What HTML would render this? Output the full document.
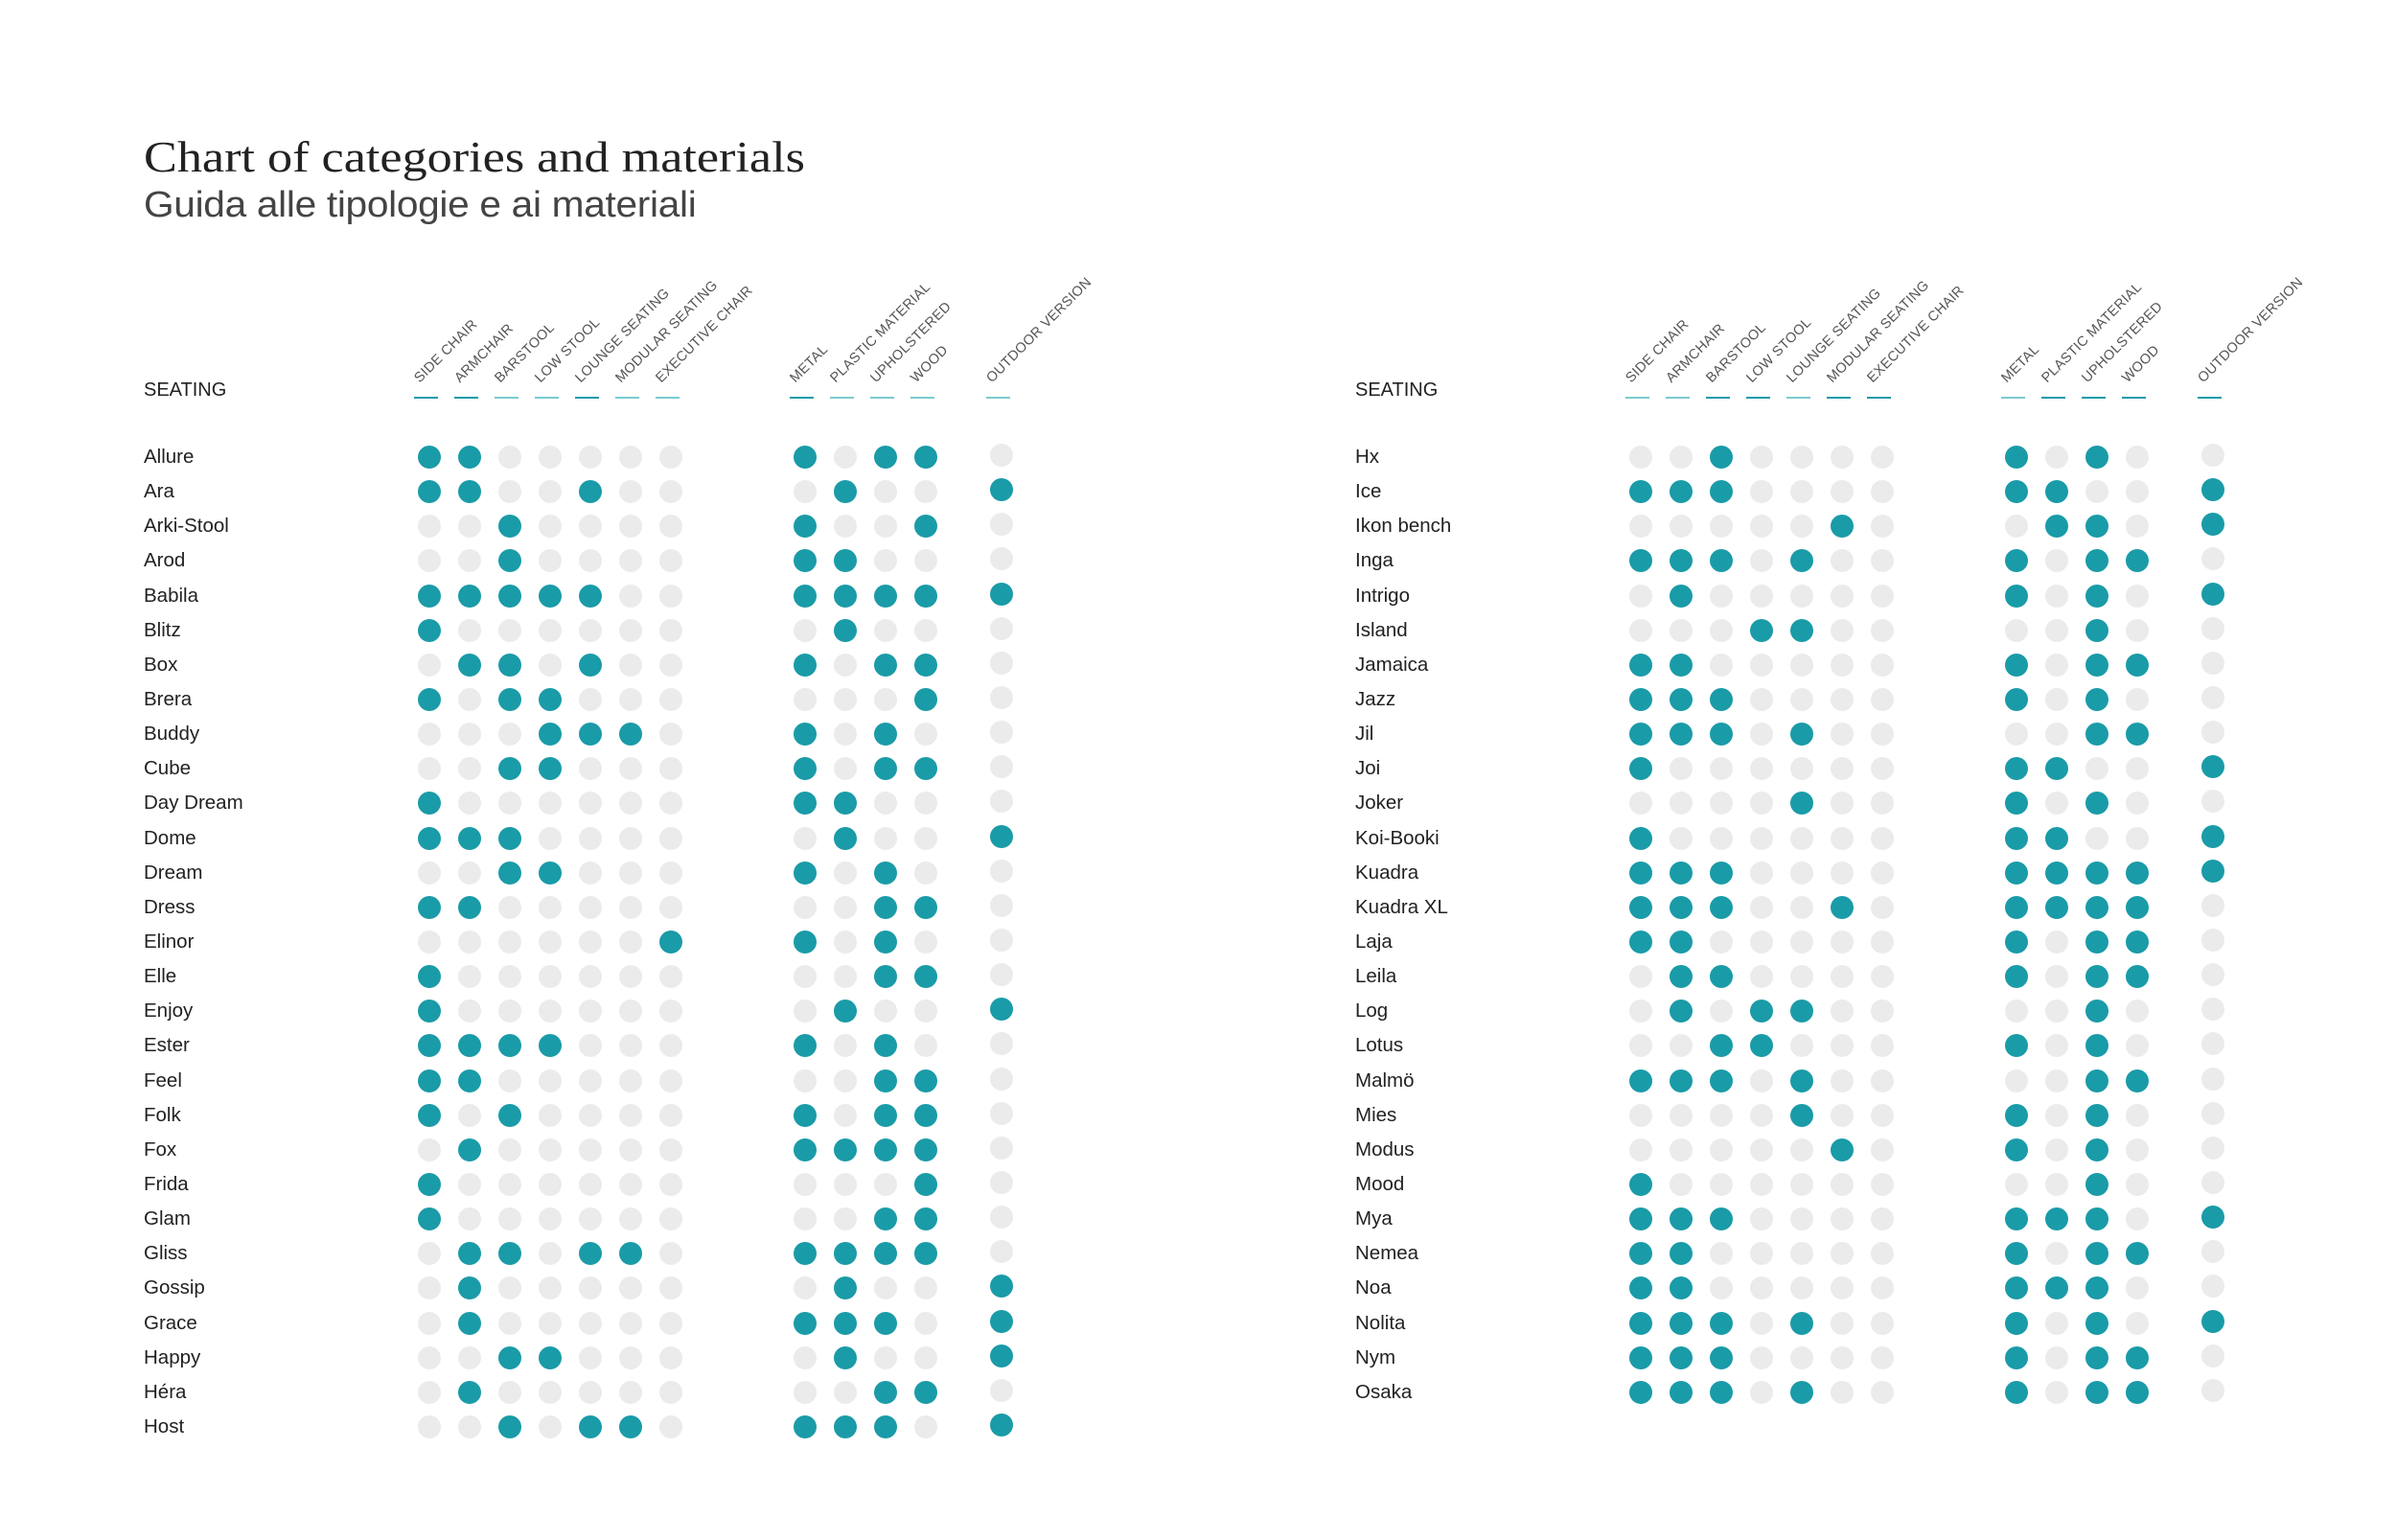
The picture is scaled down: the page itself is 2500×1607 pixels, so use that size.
<!DOCTYPE html>
<html><head><meta charset="utf-8">
<style>
body{margin:0;background:#fff;}
#c{position:relative;width:2500px;height:1607px;overflow:hidden;background:#fff;font-family:"Liberation Sans",sans-serif;color:#222;}
.t{position:absolute;left:150px;top:138px;font-family:"Liberation Serif",serif;font-size:45px;color:#222;white-space:nowrap;transform-origin:0 0;transform:scaleX(1.16);}
.s{position:absolute;left:150px;top:193px;font-size:38px;color:#444;white-space:nowrap;letter-spacing:-0.3px;transform-origin:0 0;transform:scaleX(1.07);}
.sec{position:absolute;font-size:20px;top:396px;color:#222;}
.h{position:absolute;top:388px;font-size:14.5px;color:#555;white-space:nowrap;transform-origin:0 100%;transform:rotate(-45deg);letter-spacing:0.3px;line-height:14px;}
.u{position:absolute;top:414px;width:25px;height:2px;background:#1a9ba8;}
.u.l{background:#7ccad1;}
.r{position:absolute;height:24px;width:1100px;}
.r b{position:absolute;left:0;top:-1px;font-weight:normal;font-size:20.5px;line-height:26px;color:#222;white-space:nowrap;}
.r i{position:absolute;top:0;width:24px;height:24px;border-radius:50%;background:#ebebeb;}
.r i.y{background:#1a9ba8;}
.r i:nth-of-type(1){left:286px}.r i:nth-of-type(2){left:328px}.r i:nth-of-type(3){left:370px}.r i:nth-of-type(4){left:412px}.r i:nth-of-type(5){left:454px}.r i:nth-of-type(6){left:496px}.r i:nth-of-type(7){left:538px}
.r i:nth-of-type(8){left:678px}.r i:nth-of-type(9){left:720px}.r i:nth-of-type(10){left:762px}.r i:nth-of-type(11){left:804px}
.r i:nth-of-type(12){left:883px;top:-2px}
</style></head><body><div id="c">
<div class="t">Chart of categories and materials</div>
<div class="s">Guida alle tipologie e ai materiali</div>

<div class="sec" style="left:150px">SEATING</div>
<div class="sec" style="left:1414px">SEATING</div>

<div class="h" style="left:440px">SIDE CHAIR</div>
<div class="h" style="left:482px">ARMCHAIR</div>
<div class="h" style="left:524px">BARSTOOL</div>
<div class="h" style="left:566px">LOW STOOL</div>
<div class="h" style="left:608px">LOUNGE SEATING</div>
<div class="h" style="left:650px">MODULAR SEATING</div>
<div class="h" style="left:692px">EXECUTIVE CHAIR</div>
<div class="h" style="left:832px">METAL</div>
<div class="h" style="left:874px">PLASTIC MATERIAL</div>
<div class="h" style="left:916px">UPHOLSTERED</div>
<div class="h" style="left:958px">WOOD</div>
<div class="h" style="left:1037px">OUTDOOR VERSION</div>
<div class="u" style="left:432px"></div><div class="u" style="left:474px"></div><div class="u l" style="left:516px"></div><div class="u l" style="left:558px"></div><div class="u" style="left:600px"></div><div class="u l" style="left:642px"></div><div class="u l" style="left:684px"></div>
<div class="u" style="left:824px"></div><div class="u l" style="left:866px"></div><div class="u l" style="left:908px"></div><div class="u l" style="left:950px"></div><div class="u l" style="left:1029px"></div>

<div class="h" style="left:1704px">SIDE CHAIR</div>
<div class="h" style="left:1746px">ARMCHAIR</div>
<div class="h" style="left:1788px">BARSTOOL</div>
<div class="h" style="left:1830px">LOW STOOL</div>
<div class="h" style="left:1872px">LOUNGE SEATING</div>
<div class="h" style="left:1914px">MODULAR SEATING</div>
<div class="h" style="left:1956px">EXECUTIVE CHAIR</div>
<div class="h" style="left:2096px">METAL</div>
<div class="h" style="left:2138px">PLASTIC MATERIAL</div>
<div class="h" style="left:2180px">UPHOLSTERED</div>
<div class="h" style="left:2222px">WOOD</div>
<div class="h" style="left:2301px">OUTDOOR VERSION</div>
<div class="u l" style="left:1696px"></div><div class="u l" style="left:1738px"></div><div class="u" style="left:1780px"></div><div class="u" style="left:1822px"></div><div class="u l" style="left:1864px"></div><div class="u" style="left:1906px"></div><div class="u" style="left:1948px"></div>
<div class="u l" style="left:2088px"></div><div class="u" style="left:2130px"></div><div class="u" style="left:2172px"></div><div class="u" style="left:2214px"></div><div class="u" style="left:2293px"></div>

<div class="r" style="left:150px;top:465px"><b>Allure</b><i class="y"></i><i class="y"></i><i></i><i></i><i></i><i></i><i></i><i class="y"></i><i></i><i class="y"></i><i class="y"></i><i></i></div>
<div class="r" style="left:150px;top:501px"><b>Ara</b><i class="y"></i><i class="y"></i><i></i><i></i><i class="y"></i><i></i><i></i><i></i><i class="y"></i><i></i><i></i><i class="y"></i></div>
<div class="r" style="left:150px;top:537px"><b>Arki-Stool</b><i></i><i></i><i class="y"></i><i></i><i></i><i></i><i></i><i class="y"></i><i></i><i></i><i class="y"></i><i></i></div>
<div class="r" style="left:150px;top:573px"><b>Arod</b><i></i><i></i><i class="y"></i><i></i><i></i><i></i><i></i><i class="y"></i><i class="y"></i><i></i><i></i><i></i></div>
<div class="r" style="left:150px;top:610px"><b>Babila</b><i class="y"></i><i class="y"></i><i class="y"></i><i class="y"></i><i class="y"></i><i></i><i></i><i class="y"></i><i class="y"></i><i class="y"></i><i class="y"></i><i class="y"></i></div>
<div class="r" style="left:150px;top:646px"><b>Blitz</b><i class="y"></i><i></i><i></i><i></i><i></i><i></i><i></i><i></i><i class="y"></i><i></i><i></i><i></i></div>
<div class="r" style="left:150px;top:682px"><b>Box</b><i></i><i class="y"></i><i class="y"></i><i></i><i class="y"></i><i></i><i></i><i class="y"></i><i></i><i class="y"></i><i class="y"></i><i></i></div>
<div class="r" style="left:150px;top:718px"><b>Brera</b><i class="y"></i><i></i><i class="y"></i><i class="y"></i><i></i><i></i><i></i><i></i><i></i><i></i><i class="y"></i><i></i></div>
<div class="r" style="left:150px;top:754px"><b>Buddy</b><i></i><i></i><i></i><i class="y"></i><i class="y"></i><i class="y"></i><i></i><i class="y"></i><i></i><i class="y"></i><i></i><i></i></div>
<div class="r" style="left:150px;top:790px"><b>Cube</b><i></i><i></i><i class="y"></i><i class="y"></i><i></i><i></i><i></i><i class="y"></i><i></i><i class="y"></i><i class="y"></i><i></i></div>
<div class="r" style="left:150px;top:826px"><b>Day Dream</b><i class="y"></i><i></i><i></i><i></i><i></i><i></i><i></i><i class="y"></i><i class="y"></i><i></i><i></i><i></i></div>
<div class="r" style="left:150px;top:863px"><b>Dome</b><i class="y"></i><i class="y"></i><i class="y"></i><i></i><i></i><i></i><i></i><i></i><i class="y"></i><i></i><i></i><i class="y"></i></div>
<div class="r" style="left:150px;top:899px"><b>Dream</b><i></i><i></i><i class="y"></i><i class="y"></i><i></i><i></i><i></i><i class="y"></i><i></i><i class="y"></i><i></i><i></i></div>
<div class="r" style="left:150px;top:935px"><b>Dress</b><i class="y"></i><i class="y"></i><i></i><i></i><i></i><i></i><i></i><i></i><i></i><i class="y"></i><i class="y"></i><i></i></div>
<div class="r" style="left:150px;top:971px"><b>Elinor</b><i></i><i></i><i></i><i></i><i></i><i></i><i class="y"></i><i class="y"></i><i></i><i class="y"></i><i></i><i></i></div>
<div class="r" style="left:150px;top:1007px"><b>Elle</b><i class="y"></i><i></i><i></i><i></i><i></i><i></i><i></i><i></i><i></i><i class="y"></i><i class="y"></i><i></i></div>
<div class="r" style="left:150px;top:1043px"><b>Enjoy</b><i class="y"></i><i></i><i></i><i></i><i></i><i></i><i></i><i></i><i class="y"></i><i></i><i></i><i class="y"></i></div>
<div class="r" style="left:150px;top:1079px"><b>Ester</b><i class="y"></i><i class="y"></i><i class="y"></i><i class="y"></i><i></i><i></i><i></i><i class="y"></i><i></i><i class="y"></i><i></i><i></i></div>
<div class="r" style="left:150px;top:1116px"><b>Feel</b><i class="y"></i><i class="y"></i><i></i><i></i><i></i><i></i><i></i><i></i><i></i><i class="y"></i><i class="y"></i><i></i></div>
<div class="r" style="left:150px;top:1152px"><b>Folk</b><i class="y"></i><i></i><i class="y"></i><i></i><i></i><i></i><i></i><i class="y"></i><i></i><i class="y"></i><i class="y"></i><i></i></div>
<div class="r" style="left:150px;top:1188px"><b>Fox</b><i></i><i class="y"></i><i></i><i></i><i></i><i></i><i></i><i class="y"></i><i class="y"></i><i class="y"></i><i class="y"></i><i></i></div>
<div class="r" style="left:150px;top:1224px"><b>Frida</b><i class="y"></i><i></i><i></i><i></i><i></i><i></i><i></i><i></i><i></i><i></i><i class="y"></i><i></i></div>
<div class="r" style="left:150px;top:1260px"><b>Glam</b><i class="y"></i><i></i><i></i><i></i><i></i><i></i><i></i><i></i><i></i><i class="y"></i><i class="y"></i><i></i></div>
<div class="r" style="left:150px;top:1296px"><b>Gliss</b><i></i><i class="y"></i><i class="y"></i><i></i><i class="y"></i><i class="y"></i><i></i><i class="y"></i><i class="y"></i><i class="y"></i><i class="y"></i><i></i></div>
<div class="r" style="left:150px;top:1332px"><b>Gossip</b><i></i><i class="y"></i><i></i><i></i><i></i><i></i><i></i><i></i><i class="y"></i><i></i><i></i><i class="y"></i></div>
<div class="r" style="left:150px;top:1369px"><b>Grace</b><i></i><i class="y"></i><i></i><i></i><i></i><i></i><i></i><i class="y"></i><i class="y"></i><i class="y"></i><i></i><i class="y"></i></div>
<div class="r" style="left:150px;top:1405px"><b>Happy</b><i></i><i></i><i class="y"></i><i class="y"></i><i></i><i></i><i></i><i></i><i class="y"></i><i></i><i></i><i class="y"></i></div>
<div class="r" style="left:150px;top:1441px"><b>Héra</b><i></i><i class="y"></i><i></i><i></i><i></i><i></i><i></i><i></i><i></i><i class="y"></i><i class="y"></i><i></i></div>
<div class="r" style="left:150px;top:1477px"><b>Host</b><i></i><i></i><i class="y"></i><i></i><i class="y"></i><i class="y"></i><i></i><i class="y"></i><i class="y"></i><i class="y"></i><i></i><i class="y"></i></div>

<div class="r" style="left:1414px;top:465px"><b>Hx</b><i></i><i></i><i class="y"></i><i></i><i></i><i></i><i></i><i class="y"></i><i></i><i class="y"></i><i></i><i></i></div>
<div class="r" style="left:1414px;top:501px"><b>Ice</b><i class="y"></i><i class="y"></i><i class="y"></i><i></i><i></i><i></i><i></i><i class="y"></i><i class="y"></i><i></i><i></i><i class="y"></i></div>
<div class="r" style="left:1414px;top:537px"><b>Ikon bench</b><i></i><i></i><i></i><i></i><i></i><i class="y"></i><i></i><i></i><i class="y"></i><i class="y"></i><i></i><i class="y"></i></div>
<div class="r" style="left:1414px;top:573px"><b>Inga</b><i class="y"></i><i class="y"></i><i class="y"></i><i></i><i class="y"></i><i></i><i></i><i class="y"></i><i></i><i class="y"></i><i class="y"></i><i></i></div>
<div class="r" style="left:1414px;top:610px"><b>Intrigo</b><i></i><i class="y"></i><i></i><i></i><i></i><i></i><i></i><i class="y"></i><i></i><i class="y"></i><i></i><i class="y"></i></div>
<div class="r" style="left:1414px;top:646px"><b>Island</b><i></i><i></i><i></i><i class="y"></i><i class="y"></i><i></i><i></i><i></i><i></i><i class="y"></i><i></i><i></i></div>
<div class="r" style="left:1414px;top:682px"><b>Jamaica</b><i class="y"></i><i class="y"></i><i></i><i></i><i></i><i></i><i></i><i class="y"></i><i></i><i class="y"></i><i class="y"></i><i></i></div>
<div class="r" style="left:1414px;top:718px"><b>Jazz</b><i class="y"></i><i class="y"></i><i class="y"></i><i></i><i></i><i></i><i></i><i class="y"></i><i></i><i class="y"></i><i></i><i></i></div>
<div class="r" style="left:1414px;top:754px"><b>Jil</b><i class="y"></i><i class="y"></i><i class="y"></i><i></i><i class="y"></i><i></i><i></i><i></i><i></i><i class="y"></i><i class="y"></i><i></i></div>
<div class="r" style="left:1414px;top:790px"><b>Joi</b><i class="y"></i><i></i><i></i><i></i><i></i><i></i><i></i><i class="y"></i><i class="y"></i><i></i><i></i><i class="y"></i></div>
<div class="r" style="left:1414px;top:826px"><b>Joker</b><i></i><i></i><i></i><i></i><i class="y"></i><i></i><i></i><i class="y"></i><i></i><i class="y"></i><i></i><i></i></div>
<div class="r" style="left:1414px;top:863px"><b>Koi-Booki</b><i class="y"></i><i></i><i></i><i></i><i></i><i></i><i></i><i class="y"></i><i class="y"></i><i></i><i></i><i class="y"></i></div>
<div class="r" style="left:1414px;top:899px"><b>Kuadra</b><i class="y"></i><i class="y"></i><i class="y"></i><i></i><i></i><i></i><i></i><i class="y"></i><i class="y"></i><i class="y"></i><i class="y"></i><i class="y"></i></div>
<div class="r" style="left:1414px;top:935px"><b>Kuadra XL</b><i class="y"></i><i class="y"></i><i class="y"></i><i></i><i></i><i class="y"></i><i></i><i class="y"></i><i class="y"></i><i class="y"></i><i class="y"></i><i></i></div>
<div class="r" style="left:1414px;top:971px"><b>Laja</b><i class="y"></i><i class="y"></i><i></i><i></i><i></i><i></i><i></i><i class="y"></i><i></i><i class="y"></i><i class="y"></i><i></i></div>
<div class="r" style="left:1414px;top:1007px"><b>Leila</b><i></i><i class="y"></i><i class="y"></i><i></i><i></i><i></i><i></i><i class="y"></i><i></i><i class="y"></i><i class="y"></i><i></i></div>
<div class="r" style="left:1414px;top:1043px"><b>Log</b><i></i><i class="y"></i><i></i><i class="y"></i><i class="y"></i><i></i><i></i><i></i><i></i><i class="y"></i><i></i><i></i></div>
<div class="r" style="left:1414px;top:1079px"><b>Lotus</b><i></i><i></i><i class="y"></i><i class="y"></i><i></i><i></i><i></i><i class="y"></i><i></i><i class="y"></i><i></i><i></i></div>
<div class="r" style="left:1414px;top:1116px"><b>Malmö</b><i class="y"></i><i class="y"></i><i class="y"></i><i></i><i class="y"></i><i></i><i></i><i></i><i></i><i class="y"></i><i class="y"></i><i></i></div>
<div class="r" style="left:1414px;top:1152px"><b>Mies</b><i></i><i></i><i></i><i></i><i class="y"></i><i></i><i></i><i class="y"></i><i></i><i class="y"></i><i></i><i></i></div>
<div class="r" style="left:1414px;top:1188px"><b>Modus</b><i></i><i></i><i></i><i></i><i></i><i class="y"></i><i></i><i class="y"></i><i></i><i class="y"></i><i></i><i></i></div>
<div class="r" style="left:1414px;top:1224px"><b>Mood</b><i class="y"></i><i></i><i></i><i></i><i></i><i></i><i></i><i></i><i></i><i class="y"></i><i></i><i></i></div>
<div class="r" style="left:1414px;top:1260px"><b>Mya</b><i class="y"></i><i class="y"></i><i class="y"></i><i></i><i></i><i></i><i></i><i class="y"></i><i class="y"></i><i class="y"></i><i></i><i class="y"></i></div>
<div class="r" style="left:1414px;top:1296px"><b>Nemea</b><i class="y"></i><i class="y"></i><i></i><i></i><i></i><i></i><i></i><i class="y"></i><i></i><i class="y"></i><i class="y"></i><i></i></div>
<div class="r" style="left:1414px;top:1332px"><b>Noa</b><i class="y"></i><i class="y"></i><i></i><i></i><i></i><i></i><i></i><i class="y"></i><i class="y"></i><i class="y"></i><i></i><i></i></div>
<div class="r" style="left:1414px;top:1369px"><b>Nolita</b><i class="y"></i><i class="y"></i><i class="y"></i><i></i><i class="y"></i><i></i><i></i><i class="y"></i><i></i><i class="y"></i><i></i><i class="y"></i></div>
<div class="r" style="left:1414px;top:1405px"><b>Nym</b><i class="y"></i><i class="y"></i><i class="y"></i><i></i><i></i><i></i><i></i><i class="y"></i><i></i><i class="y"></i><i class="y"></i><i></i></div>
<div class="r" style="left:1414px;top:1441px"><b>Osaka</b><i class="y"></i><i class="y"></i><i class="y"></i><i></i><i class="y"></i><i></i><i></i><i class="y"></i><i></i><i class="y"></i><i class="y"></i><i></i></div>
</div></body></html>
